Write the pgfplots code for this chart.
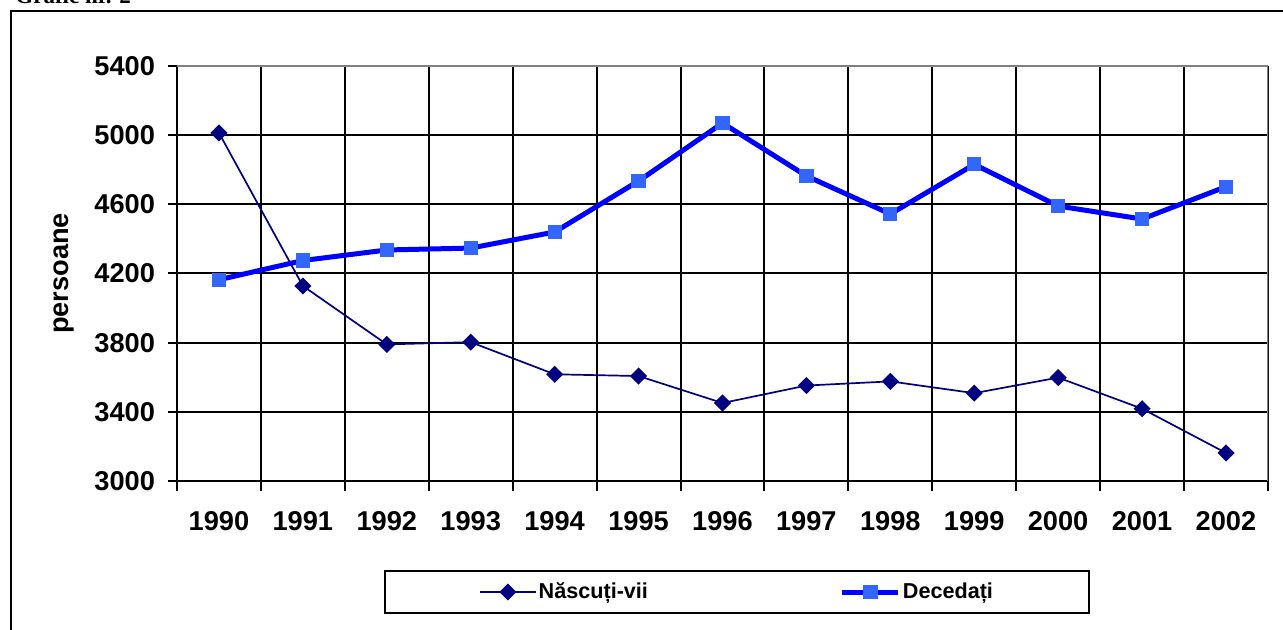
\documentclass[border=0pt]{standalone}
\usepackage{fontspec}
\setmainfont{Liberation Sans}
\newfontfamily\titlefont{Liberation Serif}
\usepackage{pgfplots}
\pgfplotsset{compat=1.18}
\definecolor{navy}{HTML}{000080}
\definecolor{dblue}{HTML}{0000FF}
\definecolor{mblue}{HTML}{3366FF}
\definecolor{edgegray}{HTML}{808080}
\begin{document}
\begin{tikzpicture}
\useasboundingbox (0,0) rectangle (641.5pt,315pt);
\clip (0,0) rectangle (641.5pt,315pt);
\draw[line width=1pt] (5.5pt,-10pt) -- (5.5pt,309.5pt) -- (660pt,309.5pt);
\node[anchor=base west, inner sep=0pt, font=\titlefont\bfseries\fontsize{11.5}{13}\selectfont] at (7.5pt,313pt) {Grafic nr. 2};
\begin{axis}[
 at={(88.5pt,74.5pt)}, anchor=south west,
 scale only axis, width=545.5pt, height=207.5pt,
 xmin=1989.5, xmax=2002.5, ymin=3000, ymax=5400,
 axis x line*=bottom, axis y line*=left,
 axis line style={line width=1pt, black, -},
 xtick={1990,...,2002},
 minor xtick={1989.5,1990.5,...,2002.5},
 ytick={3000,3400,...,5400},
 xminorgrids=true, ymajorgrids=true,
 grid style={line width=1pt, black},
 minor grid style={line width=1pt, black},
 tick align=outside,
 major tick length=4.5pt, minor tick length=5pt,
 tick style={line width=1pt, black},
 major x tick style={draw=none},
 /pgf/number format/1000 sep={},
 /pgf/number format/assume math mode=true,
 ticklabel style={font=\fontsize{13.6}{16}\selectfont\bfseries},
 xticklabel style={yshift=-7pt},
 yticklabel style={xshift=-3pt},
 ylabel={persoane},
 every axis y label/.style={at={(axis description cs:-0.0999,0.5)}, anchor=base, rotate=90, font=\fontsize{13.6}{16}\selectfont\bfseries},
 legend style={at={(axis description cs:0.5133,-0.2675)}, anchor=center, draw=black, line width=1pt, inner xsep=47pt, inner ysep=4pt, font=\fontsize{10.8}{12.6}\selectfont\bfseries, legend columns=2, nodes={inner xsep=1pt}, /tikz/every even column/.append style={column sep=95pt}},
 legend image code/.code={\draw[mark repeat=2,mark phase=2,#1] plot coordinates {(0pt,0pt)(14pt,0pt)(28pt,0pt)};},
]
\draw[edgegray, line width=1pt] (rel axis cs:0,1) -- (rel axis cs:1,1) -- (rel axis cs:1,0);
\addplot[color=navy, line width=0.85pt, mark=square*, mark size=2.6pt, mark options={rotate=45, fill=navy, draw=navy, solid}] coordinates {
(1990,5013) (1991,4128) (1992,3790) (1993,3803) (1994,3617) (1995,3607) (1996,3451)
(1997,3552) (1998,3576) (1999,3508) (2000,3598) (2001,3418) (2002,3162)};
\addplot[color=dblue, line width=2.5pt, mark=square*, mark size=3.3pt, mark options={fill=mblue, draw=mblue, line width=0.5pt, solid}] coordinates {
(1990,4164) (1991,4275) (1992,4336) (1993,4347) (1994,4440) (1995,4735) (1996,5070)
(1997,4764) (1998,4544) (1999,4831) (2000,4590) (2001,4515) (2002,4702)};
\legend{Născuți-vii, Decedați}
\end{axis}
\end{tikzpicture}
\end{document}
